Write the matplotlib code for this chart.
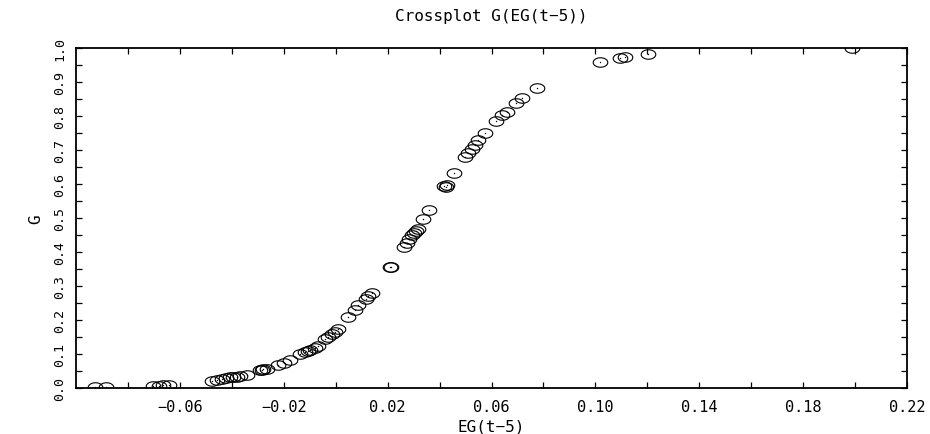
import numpy as np
import matplotlib
matplotlib.use("Agg")
import matplotlib.pyplot as plt
from matplotlib.path import Path
from matplotlib.ticker import MultipleLocator, FixedLocator, FuncFormatter

plt.rcParams['font.family'] = ['DejaVu Sans Mono', 'DejaVu Sans']

title = "Crossplot G(EG(t\u22125))"
xlabel = "EG(t\u22125)"
ylabel = "G"

eg_t5 = [-0.0925, -0.0885,
         -0.0705, -0.0680, -0.0664, -0.0641,
         -0.0477, -0.0458, -0.0439, -0.0424, -0.0407, -0.0394, -0.0381, -0.0368, -0.0343,
         -0.0291, -0.0283, -0.0279, -0.0266,
         -0.0221, -0.0199, -0.0176,
         -0.0137, -0.0118, -0.0105, -0.0099, -0.0080, -0.0067,
         -0.0041, -0.0029, -0.0016, -0.0003, 0.0010,
         0.0049, 0.0074, 0.0087,
         0.0117, 0.0126, 0.0139,
         0.0210, 0.0212,
         0.0264, 0.0273, 0.0283, 0.0293, 0.0301, 0.0309, 0.0318,
         0.0335, 0.0360,
         0.0417, 0.0423, 0.0429,
         0.0456,
         0.0498, 0.0511, 0.0524, 0.0536, 0.0549, 0.0575,
         0.0616, 0.0639, 0.0658,
         0.0694, 0.0716,
         0.0774,
         0.1016, 0.1095, 0.1114, 0.1204,
         0.1987]
g_vals = [0.004, 0.004,
          0.005, 0.007, 0.008, 0.009,
          0.022, 0.025, 0.027, 0.029, 0.031, 0.032, 0.033, 0.035, 0.039,
          0.052, 0.053, 0.055, 0.057,
          0.069, 0.074, 0.081,
          0.100, 0.106, 0.110, 0.113, 0.119, 0.124,
          0.143, 0.151, 0.159, 0.166, 0.173,
          0.210, 0.228, 0.245,
          0.262, 0.272, 0.280,
          0.355, 0.357,
          0.415, 0.427, 0.437, 0.449, 0.457, 0.463, 0.468,
          0.498, 0.524,
          0.593, 0.590, 0.598,
          0.632,
          0.678, 0.690, 0.703, 0.716, 0.729, 0.751,
          0.786, 0.804, 0.813,
          0.838, 0.853,
          0.881,
          0.958, 0.971, 0.974, 0.983,
          0.999]

x_major = [-0.06, -0.02, 0.02, 0.06, 0.10, 0.14, 0.18, 0.22]
x_minor = [-0.08, -0.04, 0.0, 0.04, 0.08, 0.12, 0.16, 0.20]
y_major = [0.0, 0.1, 0.2, 0.3, 0.4, 0.5, 0.6, 0.7, 0.8, 0.9, 1.0]

fig = plt.figure(figsize=(9.3, 4.35), dpi=100)
ax = fig.add_axes([0.0817, 0.1057, 0.8936, 0.7817])

t = np.linspace(0, 2 * np.pi, 60)
ell = Path(np.column_stack([np.cos(t), 0.65 * np.sin(t)]))

ax.plot(eg_t5, g_vals, linestyle='none', marker=ell, markersize=10.5,
        markerfacecolor='none', markeredgecolor='black', markeredgewidth=0.8)
ax.plot(eg_t5, g_vals, linestyle='none', marker='o', markersize=1.0,
        color='black', markeredgewidth=0)

ax.set_xlim(-0.10, 0.22)
ax.set_ylim(0.0, 1.0)

ax.xaxis.set_major_locator(FixedLocator(x_major))
ax.xaxis.set_minor_locator(FixedLocator(x_minor))
ax.yaxis.set_major_locator(FixedLocator(y_major))
ax.yaxis.set_minor_locator(MultipleLocator(0.05))

ax.xaxis.set_major_formatter(FuncFormatter(lambda v, p: f"{v:.2f}".replace('-', '\u2212')))
ax.yaxis.set_major_formatter(FuncFormatter(lambda v, p: f"{v:.1f}"))

ax.tick_params(which='both', direction='in', top=True, right=True,
               length=4.5, width=0.9, pad=8)
ax.tick_params(axis='x', labelsize=11)
ax.tick_params(axis='y', labelsize=9.5, pad=7)
for lab in ax.get_yticklabels():
    lab.set_rotation(90)
    lab.set_va('center')

for s in ax.spines.values():
    s.set_linewidth(1.3)

ax.set_title(title, fontsize=11.5, pad=20)
ax.set_xlabel(xlabel, fontsize=11.5, labelpad=3)
ax.set_ylabel(ylabel, fontsize=11.5, labelpad=7)

fig.savefig("out.png", dpi=100)
